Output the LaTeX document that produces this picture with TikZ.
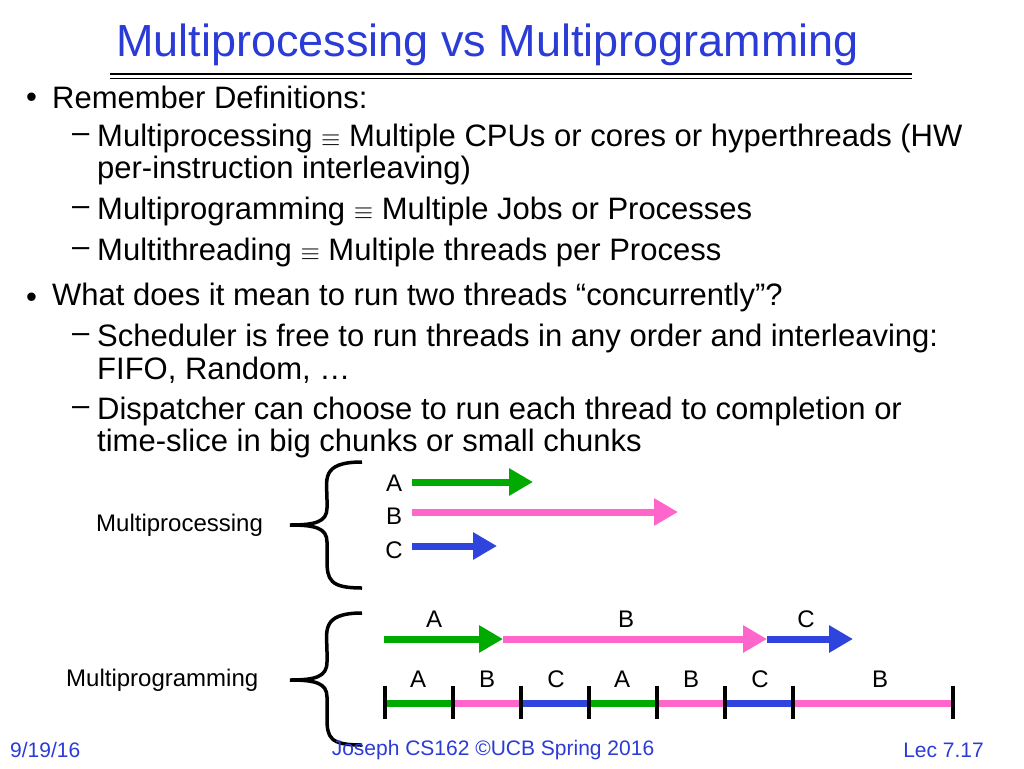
\documentclass[tikz,border=0pt]{standalone}
\usepackage{fontspec}
\setmainfont{Liberation Sans}
\usetikzlibrary{arrows.meta}
\definecolor{tblue}{HTML}{2B3BD6}
\definecolor{ggreen}{HTML}{00AA00}
\definecolor{ppink}{HTML}{FF66CC}
\definecolor{bblue}{HTML}{2E44DD}
\begin{document}
\begin{tikzpicture}[x=1pt,y=-1pt,
  body/.style={anchor=west,inner sep=0pt,font=\fontsize{31}{36}\selectfont},
  lab/.style={inner sep=0pt,font=\fontsize{24}{28}\selectfont},
  foot/.style={inner sep=0pt,font=\fontsize{21}{24}\selectfont,text=tblue},
  arr/.style={line width=7pt,-{Triangle[length=24pt,width=26pt]}},
  seg/.style={line width=7pt},
  tick/.style={line width=3.5pt},
  brace/.style={line width=3.5pt}]
\useasboundingbox (0,0) rectangle (1024,768);
\node[anchor=west,inner sep=0pt,text=tblue,font=\fontsize{45}{52}\selectfont] (title) at (116,45) {Multiprocessing vs Multiprogramming};
\draw[line width=1.6pt] (110,74) -- (912,74);
\draw[line width=1.2pt] (110,78.5) -- (912,78.5);
% bullets
\node[body] (b1d) at (26,100) {•};
\node[body] (b1) at (52,97) {Remember Definitions:};
\node[body] (s1d) at (72,138) {–};
\node[body] (s1) at (97,138) {Multiprocessing $\equiv$ Multiple CPUs or cores or hyperthreads (HW};
\node[body] (s1b) at (97,170) {per-instruction interleaving)};
\node[body] (s2d) at (72,211) {–};
\node[body] (s2) at (97,211) {Multiprogramming $\equiv$ Multiple Jobs or Processes};
\node[body] (s3d) at (72,252) {–};
\node[body] (s3) at (97,252) {Multithreading $\equiv$ Multiple threads per Process};
\node[body] (b2d) at (26,300) {•};
\node[body] (b2) at (52,297) {What does it mean to run two threads “concurrently”?};
\node[body] (s4d) at (72,338) {–};
\node[body] (s4) at (97,338) {Scheduler is free to run threads in any order and interleaving:};
\node[body] (s4b) at (97,370) {FIFO, Random, …};
\node[body] (s5d) at (72,411) {–};
\node[body] (s5) at (97,411) {Dispatcher can choose to run each thread to completion or};
\node[body] (s5b) at (97,443) {time-slice in big chunks or small chunks};
% multiprocessing
\node[lab,anchor=west] (mp) at (96,525) {Multiprocessing};
\draw[brace] (362,462) .. controls (320,462) and (327,480) .. (327,500) -- (327,508) .. controls (327,522) and (315,525) .. (290,525) .. controls (315,525) and (327,528) .. (327,542) -- (327,560) .. controls (327,580) and (330,588) .. (362,588);
\node[lab] (la) at (394,483) {A};
\node[lab] (lb) at (394,516) {B};
\node[lab] (lc) at (394,550) {C};
\coordinate (a0) at (412,482); \coordinate (a1) at (533,482);
\coordinate (p0) at (412,512); \coordinate (p1) at (678,512);
\coordinate (c0) at (412,546); \coordinate (c1) at (497,546);
\draw[arr,ggreen] (a0) -- (a1);
\draw[arr,ppink] (p0) -- (p1);
\draw[arr,bblue] (c0) -- (c1);
% multiprogramming
\node[lab,anchor=west] (mg) at (66,680) {Multiprogramming};
\draw[brace] (362,613) .. controls (320,613) and (327,632) .. (327,652) -- (327,662) .. controls (327,677) and (315,680) .. (290,680) .. controls (315,680) and (327,683) .. (327,697) -- (327,718) .. controls (327,738) and (330,745) .. (362,745);
\coordinate (q0) at (384,639); \coordinate (q1) at (503,639);
\coordinate (q2) at (767,639); \coordinate (q3) at (853,639);
\draw[arr,ppink] (q1) -- (q2);
\draw[arr,ggreen] (q0) -- (q1);
\draw[arr,bblue] (q2) -- (q3);
\node[lab] (ta) at (434,619) {A};
\node[lab] (tb) at (626,619) {B};
\node[lab] (tc) at (806,619) {C};
\foreach \i/\x in {0/385,1/453,2/521,3/589,4/657,5/725,6/793,7/953}{\coordinate (t\i) at (\x,703);}
\draw[seg,ggreen] (t0) -- (t1);
\draw[seg,ppink] (t1) -- (t2);
\draw[seg,bblue] (t2) -- (t3);
\draw[seg,ggreen] (t3) -- (t4);
\draw[seg,ppink] (t4) -- (t5);
\draw[seg,bblue] (t5) -- (t6);
\draw[seg,ppink] (t6) -- (t7);
\foreach \i in {0,...,7}{\draw[tick] ([yshift=-16pt]t\i) -- ([yshift=17pt]t\i);}
\foreach \n/\x/\t in {l1/418/A,l2/487/B,l3/556/C,l4/622/A,l5/691/B,l6/760/C,l7/880/B}{\node[lab] (\n) at (\x,679) {\t};}
% footer
\node[foot,anchor=west] (f1) at (10,750) {9/19/16};
\node[foot] (f2) at (493,750) {Joseph CS162 ©UCB Spring 2016};
\node[foot,anchor=east] (f3) at (984,750) {Lec 7.17};
\end{tikzpicture}
\end{document}
